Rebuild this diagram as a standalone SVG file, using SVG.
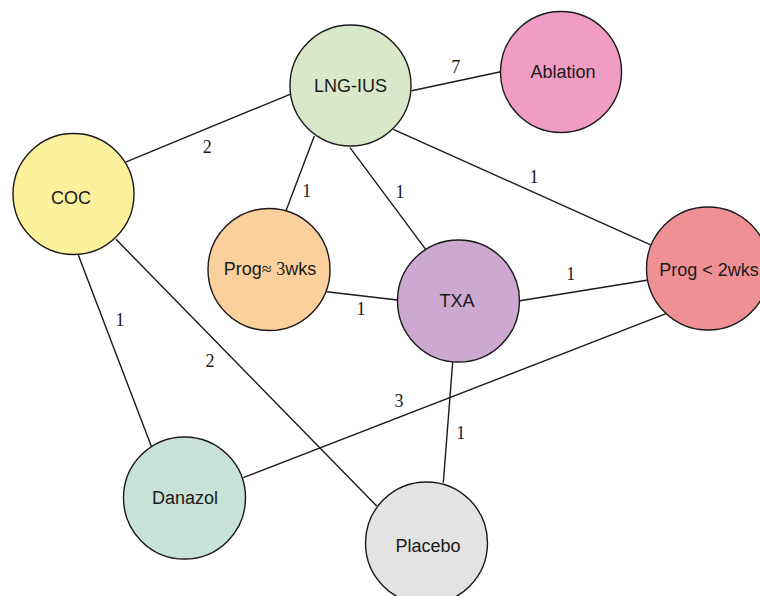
<svg xmlns="http://www.w3.org/2000/svg" width="760" height="596" viewBox="0 0 760 596">
<style>
.edge{stroke:#1a1a1a;stroke-width:1.4;fill:none}
.node{stroke:#1a1a1a;stroke-width:1.4}
.nl{font-family:"Liberation Sans",Arial,sans-serif;font-size:18px;fill:#1a1a1a;text-anchor:middle;dominant-baseline:central}
.el{font-family:"Liberation Serif","Times New Roman",serif;font-size:18px;fill:#1a1a1a;text-anchor:middle;dominant-baseline:central}
.ser{font-family:"Liberation Serif","Times New Roman",serif}
</style>
<rect width="760" height="596" fill="#ffffff"/>
<g id="connectors">
<line class="edge" x1="125" y1="162.3" x2="290" y2="94.3"/>
<line class="edge" x1="411.7" y1="90.7" x2="500.7" y2="71.7"/>
<line class="edge" x1="314.3" y1="136" x2="286" y2="210.7"/>
<line class="edge" x1="350" y1="147.7" x2="425.7" y2="249.3"/>
<line class="edge" x1="393.3" y1="129.3" x2="652.3" y2="245.7"/>
<line class="edge" x1="326.7" y1="291.7" x2="397.3" y2="300"/>
<line class="edge" x1="520" y1="300.7" x2="648.3" y2="280"/>
<line class="edge" x1="78.3" y1="255" x2="151.7" y2="447.3"/>
<line class="edge" x1="116" y1="239.3" x2="376.7" y2="506"/>
<line class="edge" x1="243.3" y1="477.7" x2="666.7" y2="313.3"/>
<line class="edge" x1="452.7" y1="361.7" x2="443.3" y2="482.7"/>
<text class="el" x="207.3" y="146.7">2</text>
<text class="el" x="455.7" y="67.3">7</text>
<text class="el" x="306.7" y="190.7">1</text>
<text class="el" x="400" y="191.7">1</text>
<text class="el" x="534" y="177.3">1</text>
<text class="el" x="570.7" y="274">1</text>
<text class="el" x="361" y="309.3">1</text>
<text class="el" x="120" y="320">1</text>
<text class="el" x="210" y="360.7">2</text>
<text class="el" x="399" y="400.7">3</text>
<text class="el" x="460.7" y="433.3">1</text>
</g>
<g id="lng-ius"><circle class="node" cx="350.5" cy="85.5" r="60.5" fill="#d9e8c9"/><text class="nl" x="350.5" y="86">LNG-IUS</text></g>
<g id="ablation"><circle class="node" cx="561" cy="72" r="60.5" fill="#f19cc3"/><text class="nl" x="563" y="72">Ablation</text></g>
<g id="coc"><circle class="node" cx="73.5" cy="194" r="60.5" fill="#fdf19d"/><text class="nl" x="71" y="198">COC</text></g>
<g id="prog3"><circle class="node" cx="269" cy="269.5" r="61" fill="#fbd09d"/><text class="nl" x="270" y="269">Prog<tspan class="ser">≈ 3</tspan>wks</text></g>
<g id="prog2"><circle class="node" cx="708" cy="268.5" r="61.5" fill="#ef9194"/><text class="nl" x="709" y="270">Prog &lt; 2wks</text></g>
<g id="txa"><circle class="node" cx="458.5" cy="301" r="61" fill="#cda8d0"/><text class="nl" x="457" y="301">TXA</text></g>
<g id="danazol"><circle class="node" cx="184.5" cy="498" r="61" fill="#c7e2d7"/><text class="nl" x="185" y="498">Danazol</text></g>
<g id="placebo"><circle class="node" cx="426.5" cy="543" r="61" fill="#e3e3e1"/><text class="nl" x="428" y="546">Placebo</text></g>
</svg>
